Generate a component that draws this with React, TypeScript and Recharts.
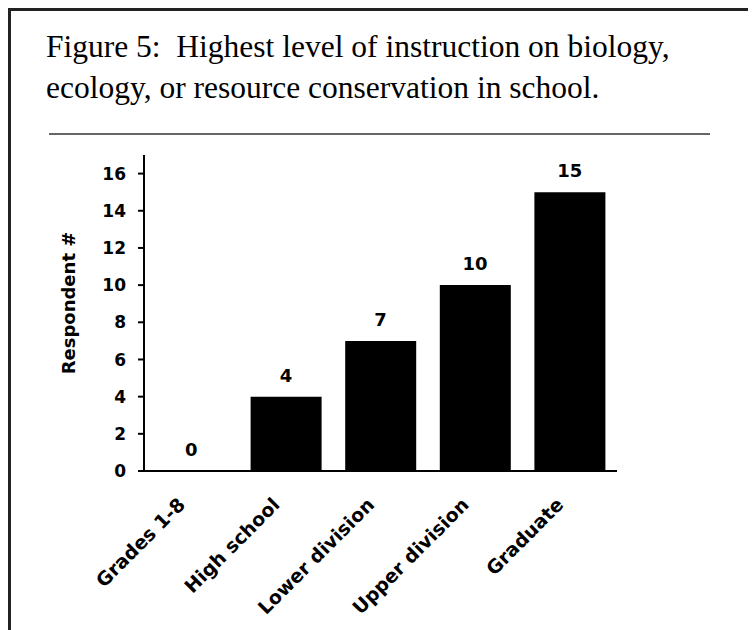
import React from "react";
import { ComposedChart, Bar, Line, XAxis, YAxis, LabelList } from "recharts";

const categories = ["Grades 1-8", "High school", "Lower division", "Upper division", "Graduate"];
const respondents = [0, 4, 7, 10, 15];
const yTicks = [0, 2, 4, 6, 8, 10, 12, 14, 16];

const data = categories.map((name, i) => ({ name, value: respondents[i] }));

const chartFont = "'DejaVu Sans', Verdana, sans-serif";
const serifFont = "'Liberation Serif', 'Times New Roman', serif";

// rotated category labels, anchored at their end just under the axis
const CategoryTick = (props: any) => {
  const { x, y, payload } = props;
  return (
    <g transform={`translate(${x - 5},${y + 35}) rotate(-45)`}>
      <text x={0} y={0} textAnchor="end" fontFamily={chartFont} fontWeight="bold" fontSize={19} fill="#000">
        {payload.value}
      </text>
    </g>
  );
};

const YTitle = (props: any) => {
  const { viewBox } = props;
  const cx = viewBox.x + 60;
  const cy = viewBox.y + viewBox.height / 2 - 10;
  return (
    <text
      x={cx}
      y={cy}
      transform={`rotate(-90, ${cx}, ${cy})`}
      textAnchor="middle"
      dominantBaseline="central"
      fontFamily={chartFont}
      fontWeight="bold"
      fontSize={18}
      fill="#000"
    >
      Respondent #
    </text>
  );
};

const App = () => {
  return (
    <div style={{ position: "relative", width: 748, height: 622, overflow: "hidden", background: "#fff" }}>
      {/* frame */}
      <div style={{ position: "absolute", left: 0, top: 0, width: 748, height: 3, background: "#222" }} />
      <div style={{ position: "absolute", left: 0, top: 0, width: 3, height: 622, background: "#222" }} />

      {/* caption */}
      <div
        style={{
          position: "absolute",
          left: 38,
          top: 18,
          fontFamily: serifFont,
          fontSize: 31.5,
          lineHeight: "41px",
          color: "#000",
          whiteSpace: "pre",
        }}
      >
        <div>Figure 5:  Highest level of instruction on biology,</div>
        <div>ecology, or resource conservation in school.</div>
      </div>
      <div style={{ position: "absolute", left: 41, top: 125, width: 661, height: 2, background: "#666" }} />

      <div style={{ position: "absolute", left: 0, top: 132 }}>
        <ComposedChart
          width={740}
          height={482}
          data={data}
          margin={{ top: 15, right: 131, left: 0, bottom: 31 }}
        >
          <XAxis
            dataKey="name"
            interval={0}
            height={120}
            tickSize={0}
            tickMargin={0}
            tickLine={false}
            axisLine={{ stroke: "#000", strokeWidth: 2 }}
            tick={<CategoryTick />}
          />
          <YAxis
            width={136}
            domain={[0, 17]}
            ticks={yTicks}
            interval={0}
            tickSize={6}
            tickMargin={12}
            axisLine={{ stroke: "#000", strokeWidth: 2 }}
            tickLine={{ stroke: "#000", strokeWidth: 2 }}
            tick={{ fontFamily: chartFont, fontWeight: "bold", fontSize: 17, fill: "#000" }}
            label={<YTitle />}
          />
          <Bar dataKey="value" fill="#000" barSize={71} isAnimationActive={false} />
          {/* invisible series that carries the value labels, so the 0 gets one too */}
          <Line
            dataKey="value"
            stroke="none"
            dot={false}
            activeDot={false}
            isAnimationActive={false}
          >
            <LabelList
              dataKey="value"
              position="top"
              offset={15}
              fontFamily={chartFont}
              fontWeight="bold"
              fontSize={18}
              fill="#000"
            />
          </Line>
        </ComposedChart>
      </div>
    </div>
  );
};

export default App;
